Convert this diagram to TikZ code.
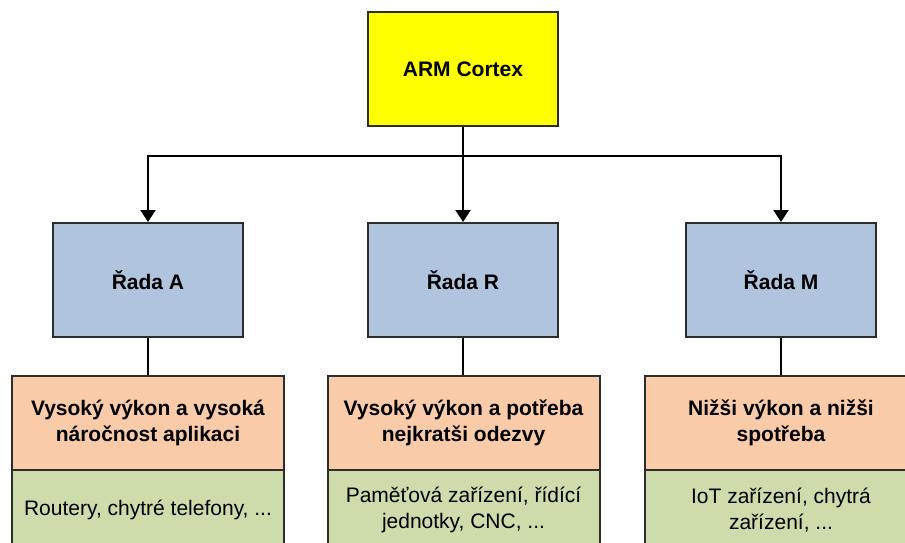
\documentclass[tikz,border=0pt]{standalone}
\usepackage{fontspec}
\setmainfont{Liberation Sans}
\usepackage{tikz}
\usetikzlibrary{arrows.meta}
\definecolor{armyellow}{RGB}{255,255,0}
\definecolor{radablue}{RGB}{176,196,222}
\definecolor{vykonorange}{RGB}{249,203,168}
\definecolor{pouzitigreen}{RGB}{205,220,170}
\definecolor{boxline}{RGB}{45,45,45}

\begin{document}
\begin{tikzpicture}[x=1pt,y=-1pt,
  box/.style={draw=boxline, line width=2pt, align=center, inner sep=0pt,
    font=\fontsize{21}{26}\selectfont},
  bigbox/.style={box, minimum width=190pt, minimum height=114pt, font=\fontsize{21}{26}\selectfont\bfseries},
  vykon/.style={box, fill=vykonorange, minimum width=272pt, minimum height=94pt, font=\fontsize{21}{26}\selectfont\bfseries},
  pouziti/.style={box, fill=pouzitigreen, minimum width=272pt, minimum height=80pt},
  link/.style={draw=black, line width=2pt},
  arr/.style={link, -{Triangle[length=12pt,width=15pt]}}]
\useasboundingbox (0,0) rectangle (905,542);
\clip (0,0) rectangle (905,542);

% top
\node[bigbox, fill=armyellow] (arm) at (463,69) {ARM Cortex};

% rady
\node[bigbox, fill=radablue] (radaA) at (148,280) {Řada A};
\node[bigbox, fill=radablue] (radaR) at (463,280) {Řada R};
\node[bigbox, fill=radablue] (radaM) at (781,280) {Řada M};

% vykon
\node[vykon] (vykonA) at (148,423) {Vysoký výkon a vysoká\\náročnost aplikaci};
\node[vykon] (vykonR) at (463.5,423) {Vysoký výkon a potřeba\\nejkratši odezvy};
\node[vykon] (vykonM) at (781,423) {Nižši výkon a nižši\\spotřeba};

% pouziti
\node[pouziti] (pouzitiA) at (148,510) {Routery, chytré telefony, ...};
\node[pouziti] (pouzitiR) at (463.5,510) {Paměťová zařízení, řídící\\jednotky, CNC, ...};
\node[pouziti] (pouzitiM) at (781,510) {IoT zařízení, chytrá\\zařízení, ...};

\coordinate (bus) at (463,156);
\draw[arr] (arm.south) -- (radaR.north);
\draw[arr] (bus) -| (radaA.north);
\draw[arr] (bus) -| (radaM.north);
\foreach \r in {A,R,M}
  \draw[link] (rada\r.south) -- (rada\r.south |- vykon\r.north);
\end{tikzpicture}
\end{document}
